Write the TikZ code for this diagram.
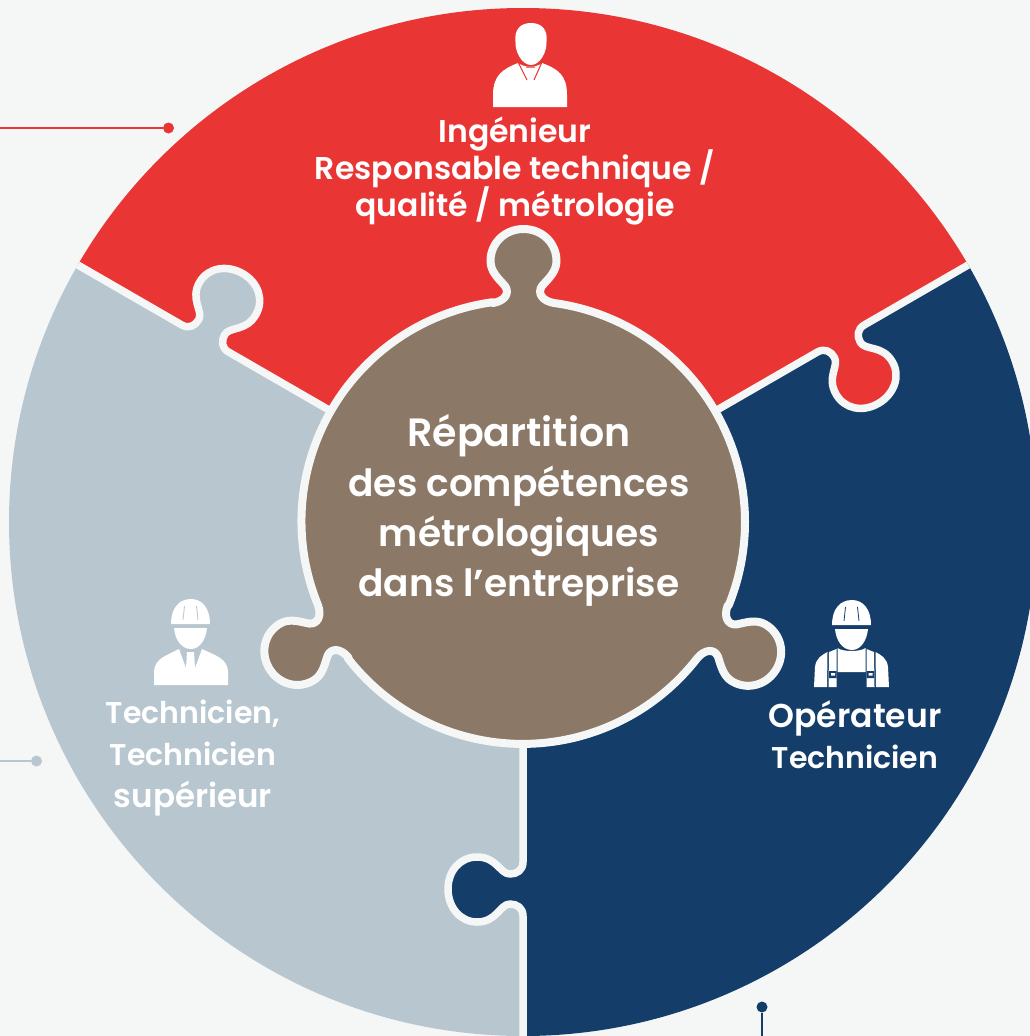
\documentclass[tikz,border=0pt]{standalone}
\usepackage{fontspec}
\setmainfont{Poppins}[BoldFont={Poppins SemiBold}]
\setlength\lineskiplimit{-40pt}
\definecolor{bgc}{HTML}{F5F7F6}
\definecolor{redc}{HTML}{E93634}
\definecolor{greyc}{HTML}{B8C6D0}
\definecolor{bluec}{HTML}{143D69}
\definecolor{brownc}{HTML}{8B7867}
\newcommand\defseam[2]{\begin{scope}[rotate around={#2:(523,522)}]
\coordinate (#1a) at (523,522);
\coordinate (#1b) at (523,862);
\coordinate (#1c) at (523,870);\coordinate (#1d) at (517,874);\coordinate (#1e) at (510,874);
\coordinate (#1f) at (500,874);\coordinate (#1g) at (497,857);\coordinate (#1h) at (477,857);
\coordinate (#1i) at (460,857);\coordinate (#1j) at (448,871);\coordinate (#1k) at (448,889);
\coordinate (#1l) at (448,907);\coordinate (#1m) at (460,922);\coordinate (#1n) at (477,922);
\coordinate (#1o) at (497,922);\coordinate (#1p) at (500,904);\coordinate (#1q) at (510,904);
\coordinate (#1r) at (517,904);\coordinate (#1s) at (523,908);\coordinate (#1t) at (523,916);
\coordinate (#1u) at (523,1200);
\end{scope}}
\newcommand\seamfwd[1]{(#1a) -- (#1b) .. controls (#1c) and (#1d) .. (#1e) .. controls (#1f) and (#1g) .. (#1h) .. controls (#1i) and (#1j) .. (#1k) .. controls (#1l) and (#1m) .. (#1n) .. controls (#1o) and (#1p) .. (#1q) .. controls (#1r) and (#1s) .. (#1t) -- (#1u)}
\newcommand\seamback[1]{(#1u) -- (#1t) .. controls (#1s) and (#1r) .. (#1q) .. controls (#1p) and (#1o) .. (#1n) .. controls (#1m) and (#1l) .. (#1k) .. controls (#1j) and (#1i) .. (#1h) .. controls (#1g) and (#1f) .. (#1e) .. controls (#1d) and (#1c) .. (#1b) -- (#1a)}
\newcommand\defknob[2]{\begin{scope}[rotate around={#2:(523,522)}]
\coordinate (#1a) at (493,303);
\coordinate (#1b) at (505,301);\coordinate (#1c) at (510,293);\coordinate (#1d) at (505,286);
\coordinate (#1e) at (499,279);\coordinate (#1f) at (490.5,272);\coordinate (#1g) at (490.5,261);
\coordinate (#1h) at (490.5,243);\coordinate (#1i) at (505,229);\coordinate (#1j) at (523.5,229);
\coordinate (#1k) at (542,229);\coordinate (#1l) at (556.5,243);\coordinate (#1m) at (556.5,261);
\coordinate (#1n) at (556.5,272);\coordinate (#1o) at (548,279);\coordinate (#1p) at (542,286);
\coordinate (#1q) at (537,293);\coordinate (#1r) at (542,301);\coordinate (#1s) at (554,303);
\end{scope}}
\newcommand\knob[1]{(#1a) .. controls (#1b) and (#1c) .. (#1d) .. controls (#1e) and (#1f) .. (#1g) .. controls (#1h) and (#1i) .. (#1j) .. controls (#1k) and (#1l) .. (#1m) .. controls (#1n) and (#1o) .. (#1p) .. controls (#1q) and (#1r) .. (#1s)}
\tikzset{
  seamline/.style={draw=bgc,line width=7.5pt,line join=round},
  lbl/.style={text=white,align=center,font=\bfseries\fontsize{31.5}{37}\selectfont,inner sep=0pt},
  dotnode/.style={circle,inner sep=0pt,minimum size=11pt},
  leader/.style={line width=2.8pt},
}
\begin{document}
\begin{tikzpicture}[x=1pt,y=-1pt]
\useasboundingbox (0,0) rectangle (1030,1036);
\fill[bgc] (0,0) rectangle (1030,1036);
\defseam{v}{0}\defseam{r}{120}\defseam{l}{240}
\defknob{t}{0}\defknob{e}{-120}\defknob{w}{120}
% connectors
\node[dotnode,fill=redc] (dr) at (168.5,128) {};
\coordinate (fr) at (0,128);
\draw[leader,redc] (fr) -- (dr);
\node[dotnode,fill=greyc] (dg) at (36.5,761) {};
\coordinate (fg) at (0,761);
\draw[leader,greyc] (fg) -- (dg);
\node[dotnode,fill=bluec] (db) at (762,1007) {};
\coordinate (fb) at (762,1036);
\draw[leader,bluec] (fb) -- (db);
% disc pieces
\begin{scope}
\clip (523,522) circle[radius=514pt];
\fill[bluec] \seamfwd{v} -- (1500,1200) -- (1500,-200) -- \seamback{r} -- cycle;
\fill[redc] \seamfwd{r} -- (1500,-600) -- (-500,-600) -- \seamback{l} -- cycle;
\fill[greyc] \seamfwd{l} -- (-500,1500) -- \seamback{v} -- cycle;
\draw[seamline] \seamfwd{v};
\draw[seamline] \seamfwd{r};
\draw[seamline] \seamfwd{l};
\end{scope}
% centre
\path[fill=brownc,draw=bgc,line width=8pt,line join=round] \knob{t}
  arc[start angle=82.2,end angle=-22.2,radius=221pt]
  -- \knob{e}
  arc[start angle=-37.8,end angle=-142.2,radius=221pt]
  -- \knob{w}
  arc[start angle=-157.8,end angle=-262.2,radius=221pt] -- cycle;
% texts
\node[lbl] (tred) at (515,171) {Ingénieur\\Responsable technique /\\qualité / métrologie};
\node[lbl,font=\bfseries\fontsize{37.5}{50}\selectfont] (tmid) at (519,510.5) {{\fontsize{39.5}{50}\selectfont Répartition}\\des compétences\\métrologiques\\dans l’entreprise};
\node[lbl,font=\bfseries\fontsize{30}{42}\selectfont] (tgrey) at (193,758.5) {Technicien,\\Technicien\\{\fontsize{32.5}{42}\selectfont supérieur}};
\node[lbl,font=\bfseries\fontsize{30}{41}\selectfont] (tblue) at (855,734.5) {{\fontsize{33}{41}\selectfont Opérateur}\\Technicien};
% engineer icon
\fill[white] (515.5,42) .. controls (514,30) and (520,23) .. (531,23) .. controls (542,23) and (548,30) .. (546.5,42) .. controls (547,52) and (540,65) .. (531,65) .. controls (522,65) and (515,52) .. (515.5,42) -- cycle;
\fill[white] (493,107) -- (493,95) .. controls (493,75) and (503,69) .. (518,63) .. controls (525,68) and (536,68) .. (542,63) .. controls (558,69) and (567,75) .. (567,95) -- (567,107) -- cycle;
\draw[redc,line width=1pt] (518,62) -- (527,80) (542,62) -- (534,80) (526,67) -- (535,67);
% worker icon
\fill[white] (832,625) .. controls (832,609) and (840,600) .. (852,600) .. controls (863,600) and (871,609) .. (871,625) -- cycle;
\fill[white] (835,629) -- (868,629) .. controls (867,640) and (861,650) .. (852,650) .. controls (842,650) and (836,640) .. (835,629) -- cycle;
\draw[bluec,line width=0.8pt] (845.5,607) -- (844,621) (857.5,607) -- (859,621);
\fill[white] (814,687) -- (815,667) .. controls (816,658) and (822,655) .. (827.5,652) -- (827,687) -- cycle;
\fill[white] (889,687) -- (888,667) .. controls (887,658) and (881,655) .. (875.5,652) -- (876,687) -- cycle;
\fill[white] (829,652) -- (836.5,649) -- (836.5,687) -- (828.5,687) -- cycle;
\fill[white] (874,652) -- (866.5,649) -- (866.5,687) -- (874.5,687) -- cycle;
\fill[white] (837.5,648) .. controls (843,652) and (860,652) .. (865.5,648) -- (865.5,672) -- (837.5,672) -- cycle;
\fill[bluec] (829,671) rectangle (836.5,678) (866.5,671) rectangle (874,678);
\fill[white] (831,673) rectangle (835,675.5) (868.5,673) rectangle (872.5,675.5);
% technician icon
\fill[white] (171,624) .. controls (171,608) and (179,599) .. (191,599) .. controls (202,599) and (210,608) .. (210,624) -- cycle;
\fill[white] (174,628) -- (207,628) .. controls (206,639) and (200,649) .. (191,649) .. controls (181,649) and (175,639) .. (174,628) -- cycle;
\draw[greyc,line width=0.8pt] (184.5,606) -- (183,620) (196.5,606) -- (198,620);
\fill[white] (154,685) -- (154,671) .. controls (155,659) and (165,656) .. (179,649) -- (186,668) -- (187,652) -- (194,652) -- (195,668) -- (202,649) .. controls (217,656) and (227,659) .. (228,671) -- (228,685) -- cycle;
\end{tikzpicture}
\end{document}
